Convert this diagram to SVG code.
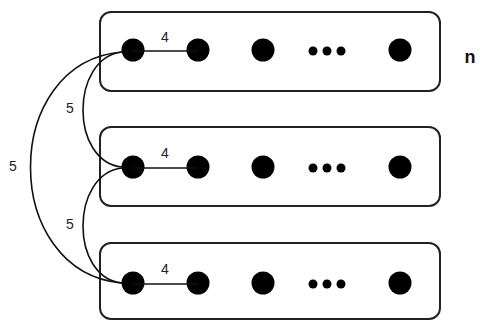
<svg xmlns="http://www.w3.org/2000/svg" width="480" height="322" viewBox="0 0 480 322">
<style>
.box{fill:#fff;stroke:#222;stroke-width:2}
.big{fill:#000}
.sm{fill:#000}
.edge{fill:none;stroke:#111;stroke-width:1.6}
.lbl{font-family:"Liberation Sans",Arial,sans-serif;font-size:14px;fill:#222;text-anchor:middle}
.n{font-family:"Liberation Sans",Arial,sans-serif;font-size:18px;font-weight:bold;fill:#111;text-anchor:middle}
</style>
<rect width="480" height="322" fill="#fff"/>
<g id="row1">
<rect class="box" x="100" y="12" width="340" height="79" rx="11"/>
<circle class="big" cx="133" cy="50" r="11.5"/>
<circle class="big" cx="198" cy="50" r="11.5"/>
<circle class="big" cx="263" cy="50" r="11.5"/>
<circle class="sm" cx="313" cy="51" r="4.5"/>
<circle class="sm" cx="327" cy="51" r="4.5"/>
<circle class="sm" cx="341" cy="51" r="4.5"/>
<circle class="big" cx="400" cy="50" r="11.5"/>
</g>
<g id="row2">
<rect class="box" x="100" y="127" width="340" height="79" rx="11"/>
<circle class="big" cx="133" cy="167" r="11.5"/>
<circle class="big" cx="198" cy="167" r="11.5"/>
<circle class="big" cx="263" cy="167" r="11.5"/>
<circle class="sm" cx="313" cy="168" r="4.5"/>
<circle class="sm" cx="327" cy="168" r="4.5"/>
<circle class="sm" cx="341" cy="168" r="4.5"/>
<circle class="big" cx="400" cy="167" r="11.5"/>
</g>
<g id="row3">
<rect class="box" x="100" y="243" width="340" height="76" rx="11"/>
<circle class="big" cx="133" cy="283" r="11.5"/>
<circle class="big" cx="198" cy="283" r="11.5"/>
<circle class="big" cx="263" cy="283" r="11.5"/>
<circle class="sm" cx="313" cy="284" r="4.5"/>
<circle class="sm" cx="327" cy="284" r="4.5"/>
<circle class="sm" cx="341" cy="284" r="4.5"/>
<circle class="big" cx="400" cy="283" r="11.5"/>
</g>
<g id="connectors">
<line class="edge" x1="133" y1="51" x2="198" y2="51"/>
<line class="edge" x1="133" y1="168" x2="198" y2="168"/>
<line class="edge" x1="133" y1="284" x2="198" y2="284"/>
<path class="edge" d="M122 52 C70 58 70 162 122 167"/>
<path class="edge" d="M122 168 C70 174 70 278 122 283"/>
<path class="edge" d="M122 52 C0 62 0 272 122 283"/>
</g>
<g id="labels">
<text class="lbl" x="165" y="42">4</text>
<text class="lbl" x="165" y="158">4</text>
<text class="lbl" x="165" y="274">4</text>
<text class="lbl" x="70" y="113">5</text>
<text class="lbl" x="70" y="229">5</text>
<text class="lbl" x="13" y="171">5</text>
<text class="n" x="470" y="63">n</text>
</g>
</svg>
